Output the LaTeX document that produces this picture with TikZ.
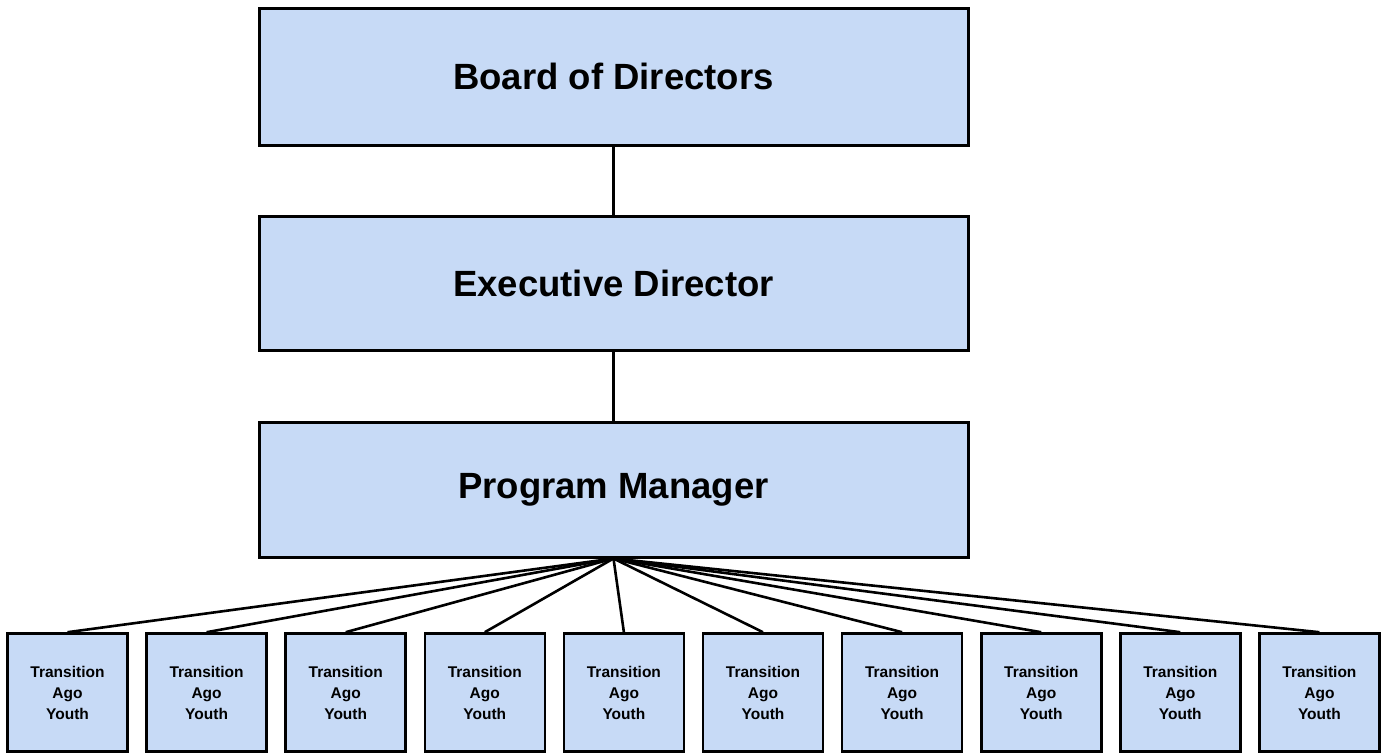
\documentclass[tikz,border=0pt]{standalone}
\usepackage{fontspec}
\setmainfont{Liberation Sans}
\definecolor{boxfill}{RGB}{199,218,246}
\begin{document}
\begin{tikzpicture}[x=1pt,y=-1pt,
  bigbox/.style={draw=black, fill=boxfill, line width=3pt, minimum width=709pt, inner sep=0pt,
     font=\fontsize{36.5}{40}\selectfont\bfseries},
  tay/.style={draw=black, fill=boxfill, line width=2.6pt, minimum width=120pt, minimum height=118pt, inner sep=0pt,
     align=center, font=\fontsize{15.5}{21}\selectfont\bfseries},
  link/.style={draw=black, line width=2.6pt}]
\useasboundingbox (0,0) rectangle (1383,755);
\node[bigbox, minimum height=137pt] (board) at (613.5,76.5) {Board of Directors};
\node[bigbox, minimum height=134pt] (exec) at (613.5,283) {Executive Director};
\node[bigbox, minimum height=135pt] (pm) at (613.5,489.5) {Program Manager};
\draw[link] (board) -- (exec);
\draw[link] (exec) -- (pm);
\foreach \i in {0,...,9} {
  \node[tay] (t\i) at ({67.5+139.1*\i},692.5) {Transition\\Ago\\Youth};
}
\foreach \i in {0,...,9} {
  \draw[link] (pm.south) -- (t\i.north);
}
\end{tikzpicture}
\end{document}
